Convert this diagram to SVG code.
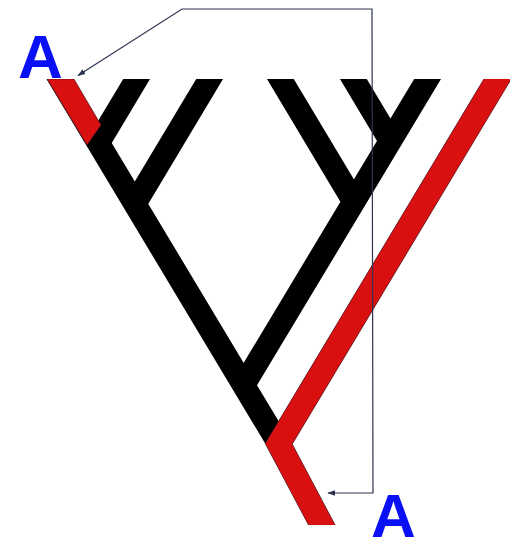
<svg xmlns="http://www.w3.org/2000/svg" width="510" height="538" viewBox="0 0 510 538">
  <style>
    .blk { fill: none; stroke: #000; stroke-width: 23; stroke-linecap: butt; }
    .redu { fill: none; stroke: #4a1a2a; stroke-width: 24.2; stroke-linecap: butt; stroke-linejoin: miter; }
    .red { fill: none; stroke: #d8100f; stroke-width: 23; stroke-linecap: butt; stroke-linejoin: miter; }
    .conn { fill: none; stroke: #2d3550; stroke-width: 1.2; }
    .lbl { font-family: "Liberation Sans", Arial, sans-serif; font-weight: bold; font-size: 62px; fill: #0a10f5; }
  </style>
  <defs>
    <clipPath id="clip">
      <rect x="0" y="79" width="510" height="446"/>
    </clipPath>
    <marker id="ah" viewBox="0 0 10 10" refX="9" refY="5" markerWidth="8" markerHeight="8" markerUnits="userSpaceOnUse" orient="auto-start-reverse">
      <path d="M0,1.5 L10,5 L0,8.5 z" fill="#2d3550"/>
    </marker>
  </defs>
  <rect width="510" height="538" fill="#fff"/>

  <g clip-path="url(#clip)">
    <g id="spine"><line class="blk" x1="48.5" y1="60" x2="278.75" y2="443.75"/></g>
    <g id="leaf2"><line class="blk" x1="148" y1="60" x2="98.3" y2="143"/></g>
    <g id="leaf3"><line class="blk" x1="221" y1="60" x2="134.75" y2="204"/></g>
    <g id="leaf6-clade"><line class="blk" x1="439" y1="60" x2="243.8" y2="385"/></g>
    <g id="leaf4"><line class="blk" x1="269" y1="60" x2="354" y2="202"/></g>
    <g id="leaf5"><line class="blk" x1="342" y1="60" x2="390.5" y2="141"/></g>
    <g id="leaf7-root">
      <polyline class="redu" points="509,60 278.75,443.75 331.75,543.75"/>
      <polyline class="red" points="509,60 278.75,443.75 331.75,543.75"/>
    </g>
    <g id="leaf1-red">
      <polygon points="47,79 74,79 101,125 87,145" fill="#d8100f" stroke="#4a1a2a" stroke-width="0.6"/>
    </g>
  </g>

  <g id="connectors">
    <path class="conn" d="M78,75.5 L182,9 L372,9 L373,493 L328,493" marker-start="url(#ah)" marker-end="url(#ah)"/>
  </g>

  <g id="labels">
    <text class="lbl" x="18" y="78">A</text>
    <text class="lbl" x="371" y="537">A</text>
  </g>
</svg>
